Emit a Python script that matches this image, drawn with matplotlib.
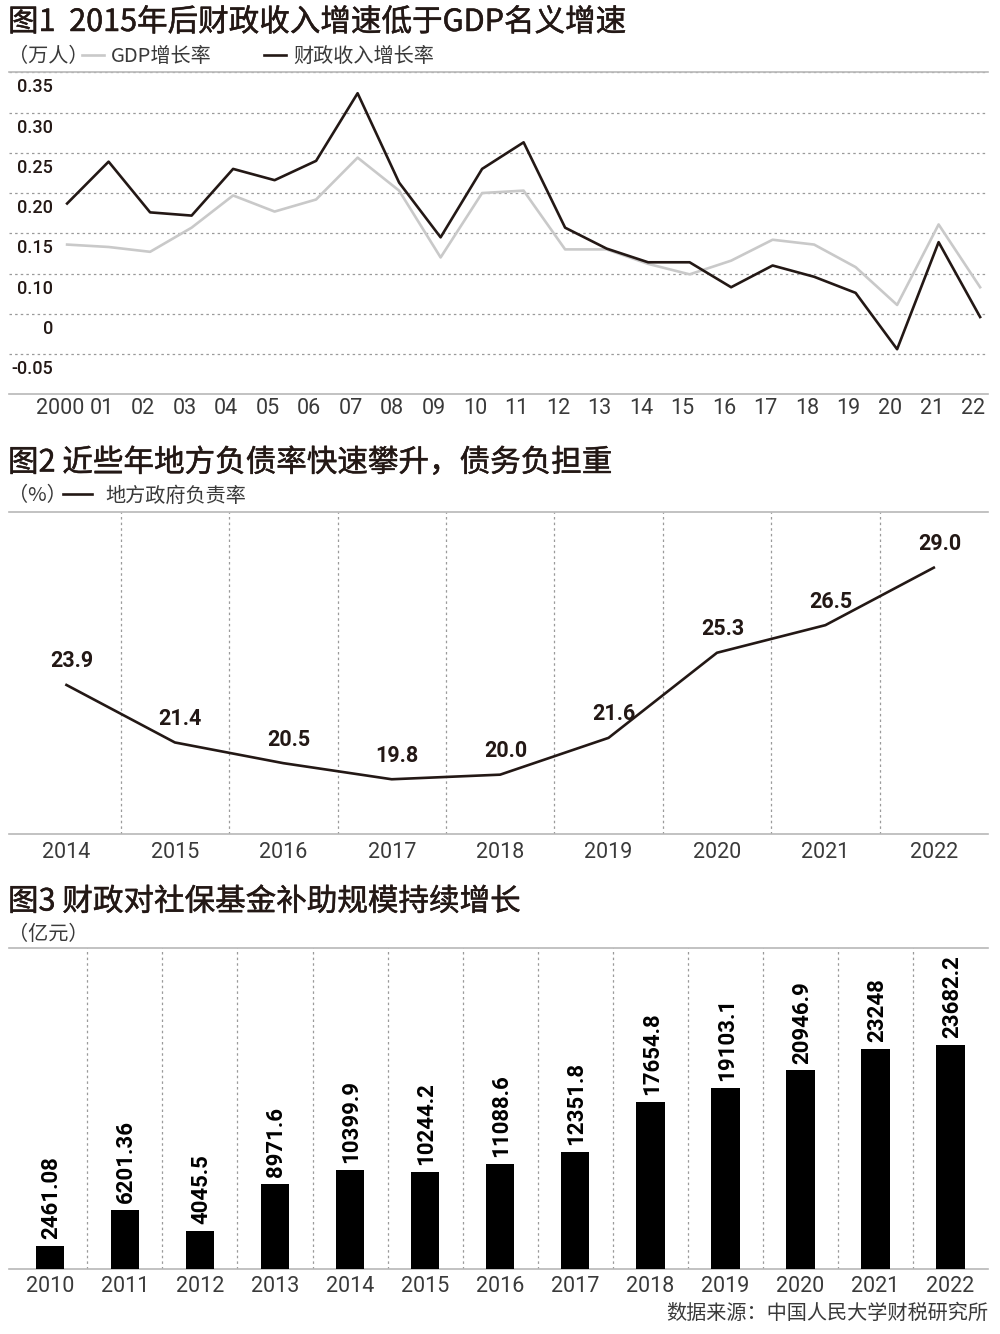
import numpy as np
import matplotlib
matplotlib.use('Agg')
import matplotlib.pyplot as plt
import matplotlib.patheffects as pe
from matplotlib.transforms import ScaledTranslation

plt.rcParams['font.family'] = ['Noto Sans CJK SC', 'DejaVu Sans']

# ---- 图1 data ----
years1 = ['2000', '01', '02', '03', '04', '05', '06', '07', '08', '09', '10', '11',
          '12', '13', '14', '15', '16', '17', '18', '19', '20', '21', '22']
gdp_growth = [0.136, 0.133, 0.127, 0.157, 0.197, 0.177, 0.192, 0.244, 0.203, 0.120, 0.200, 0.203,
              0.130, 0.130, 0.112, 0.098, 0.116, 0.142, 0.136, 0.108, 0.022, 0.161, 0.066]
revenue_growth = [0.187, 0.239, 0.176, 0.172, 0.230, 0.216, 0.240, 0.324, 0.213, 0.145, 0.230, 0.263,
                  0.157, 0.131, 0.114, 0.114, 0.066, 0.110, 0.092, 0.052, -0.044, 0.139, -0.004]
yticks1 = [0.35, 0.30, 0.25, 0.20, 0.15, 0.10, 0, -0.05]
ytick_labels1 = ['0.35', '0.30', '0.25', '0.20', '0.15', '0.10', '0', '-0.05']

# ---- 图2 data ----
years2 = ['2014', '2015', '2016', '2017', '2018', '2019', '2020', '2021', '2022']
debt_ratio = [23.9, 21.4, 20.5, 19.8, 20.0, 21.6, 25.3, 26.5, 29.0]

# ---- 图3 data ----
years3 = ['2010', '2011', '2012', '2013', '2014', '2015', '2016', '2017', '2018', '2019',
          '2020', '2021', '2022']
subsidy = [2461.08, 6201.36, 4045.5, 8971.6, 10399.9, 10244.2, 11088.6, 12351.8, 17654.8,
           19103.1, 20946.9, 23248, 23682.2]
subsidy_labels = ['2461.08', '6201.36', '4045.5', '8971.6', '10399.9', '10244.2', '11088.6',
                  '12351.8', '17654.8', '19103.1', '20946.9', '23248', '23682.2']

INK = '#231815'
TXT = '#3a3a3a'
RULE = '#b8b8b8'
GRID = '#9a9a9a'
NUM = 'Roboto'
# no medium CJK weight installed: thicken the regular one a little
TITLE_FX = [pe.withStroke(linewidth=0.35, foreground=INK)]

fig = plt.figure(figsize=(10, 13.34), dpi=100)
H = 1334.0


def fy(px):
    return 1 - px / H


def style_axes(ax):
    for s in ['left', 'right']:
        ax.spines[s].set_visible(False)
    for s in ['top', 'bottom']:
        ax.spines[s].set_color(RULE)
        ax.spines[s].set_linewidth(1.2)
    ax.tick_params(length=0)


# the y axis of 图1 is compressed between 0 and 0.10 (one grid step)
def fwd(v):
    return np.interp(v, [-1, 0, 0.10, 1], [-0.95, 0.05, 0.10, 1])


def inv(r):
    return np.interp(r, [-0.95, 0.05, 0.10, 1], [-1, 0, 0.10, 1])


# ================= 图1 =================
fig.text(0.008, fy(22.5), '图1  2015年后财政收入增速低于GDP名义增速', fontsize=22,
         color=INK, va='center', path_effects=TITLE_FX)
fig.text(0.008, fy(56.5), '（万人）', fontsize=14.5, color=TXT, va='center')

ax1 = fig.add_axes([0.009, fy(394.3), 0.979, fy(72.3) - fy(394.3)])
style_axes(ax1)
x1 = np.arange(len(years1))
l_gdp, = ax1.plot(x1, gdp_growth, color='#c9c9c9', lw=1.9, label='GDP增长率')
l_rev, = ax1.plot(x1, revenue_growth, color=INK, lw=1.9, label='财政收入增长率')
ax1.set_yscale('function', functions=(fwd, inv))
ax1.set_ylim(-0.10, 0.35)
ax1.set_xlim(-1.40, 22.19)
ax1.set_yticks(yticks1, ytick_labels1)
ax1.set_xticks(x1, years1)
ax1.grid(axis='y', ls=(0, (2, 2.5)), color=GRID, lw=0.9)
ax1.tick_params(axis='y', pad=-31.5, labelsize=13, labelcolor=INK)
ax1.tick_params(axis='x', pad=3, labelsize=15.5, labelcolor=TXT)
for lab in ax1.get_yticklabels():
    lab.set_family(NUM)
    lab.set_weight('medium')
    lab.set_transform(lab.get_transform() + ScaledTranslation(0, -0.13, fig.dpi_scale_trans))
for lab in ax1.get_xticklabels():
    lab.set_family(NUM)
    lab.set_weight('normal')
    lab.set_transform(lab.get_transform() + ScaledTranslation(-0.07, 0, fig.dpi_scale_trans))
ax1.legend(handles=[l_gdp, l_rev], loc='center left', bbox_to_anchor=(0.082, fy(56.5)),
           bbox_transform=fig.transFigure, ncol=2, frameon=False, fontsize=14.5,
           handlelength=1.1, handletextpad=0.35, columnspacing=2.6, borderpad=0,
           borderaxespad=0, labelcolor=TXT)

# ================= 图2 =================
fig.text(0.008, fy(463), '图2 近些年地方负债率快速攀升，债务负担重', fontsize=22,
         color=INK, va='center', path_effects=TITLE_FX)
fig.text(0.008, fy(496), '（%）', fontsize=14.5, color=TXT, va='center')

ax2 = fig.add_axes([0.009, fy(834), 0.979, fy(512) - fy(834)])
style_axes(ax2)
x2 = np.arange(len(years2))
l_debt, = ax2.plot(x2, debt_ratio, color=INK, lw=1.9, label='地方政府负责率')
ax2.set_xlim(-0.53, 8.5)
ax2.set_ylim(17.42, 31.42)
ax2.set_yticks([])
ax2.set_xticks(x2, years2)
ax2.set_xticks(x2[:-1] + 0.5, minor=True)
ax2.grid(axis='x', which='minor', ls=(0, (2, 2.5)), color=GRID, lw=0.9)
ax2.tick_params(axis='x', which='both', length=0, pad=6, labelsize=15.5, labelcolor=TXT)
for lab in ax2.get_xticklabels():
    lab.set_family(NUM)
    lab.set_weight('normal')
for xi, v in zip(x2, debt_ratio):
    ax2.annotate(f'{v:.1f}', xy=(xi, v), xytext=(4, 17), textcoords='offset points',
                 ha='center', va='center', fontsize=15.5, family=NUM, weight='bold', color=INK)
ax2.legend(handles=[l_debt], loc='center left', bbox_to_anchor=(0.063, fy(496)),
           bbox_transform=fig.transFigure, frameon=False, fontsize=14.5,
           handlelength=1.45, handletextpad=0.65, borderpad=0, borderaxespad=0,
           labelcolor=TXT)

# ================= 图3 =================
fig.text(0.008, fy(902), '图3 财政对社保基金补助规模持续增长', fontsize=22,
         color=INK, va='center', path_effects=TITLE_FX)
fig.text(0.008, fy(935), '（亿元）', fontsize=14.5, color=TXT, va='center')

ax3 = fig.add_axes([0.009, fy(1269), 0.979, fy(947.7) - fy(1269)])
style_axes(ax3)
x3 = np.arange(len(years3))
ax3.bar(x3, subsidy, width=0.38, color='black', zorder=3)
ax3.set_xlim(-0.544, 12.5)
ax3.set_ylim(0, 33900)
ax3.set_yticks([])
ax3.set_xticks(x3, years3)
ax3.set_xticks(x3[:-1] + 0.5, minor=True)
ax3.grid(axis='x', which='minor', ls=(0, (2, 2.5)), color=GRID, lw=0.9)
ax3.tick_params(axis='x', which='both', length=0, pad=5, labelsize=15.5, labelcolor=TXT)
for lab in ax3.get_xticklabels():
    lab.set_family(NUM)
    lab.set_weight('normal')
for xi, v, s in zip(x3, subsidy, subsidy_labels):
    ax3.annotate(s, xy=(xi, v), xytext=(1, 5), textcoords='offset points', rotation=90,
                 ha='center', va='bottom', fontsize=16, family=NUM, weight='bold', color='black')

fig.text(0.988, fy(1313), '数据来源：中国人民大学财税研究所', fontsize=14.5, color=TXT,
         ha='right', va='center')

fig.savefig('out.png', dpi=100)
